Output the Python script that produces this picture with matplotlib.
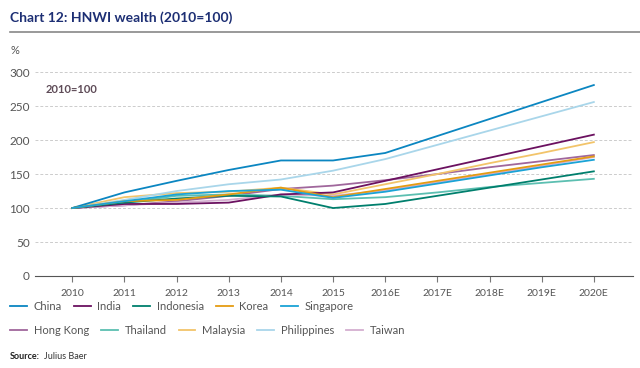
import matplotlib.pyplot as plt
from matplotlib.lines import Line2D

plt.rcParams['font.family'] = ['Lato', 'DejaVu Sans']

years = ['2010', '2011', '2012', '2013', '2014', '2015', '2016E', '2017E', '2018E', '2019E', '2020E']

china = [100, 123, 140, 156, 170, 170, 181, 206, 231, 256, 281]
india = [100, 106, 106, 108, 120, 123, 140, 157, 174, 191, 208]
indonesia = [100, 108, 114, 118, 117, 100, 106, 118, 130, 142, 154]
korea = [100, 110, 112, 120, 130, 116, 128, 140, 152, 164, 176]
singapore = [100, 110, 120, 125, 127, 115, 124, 136, 148, 160, 171]
hong_kong = [100, 104, 110, 118, 128, 133, 141, 150, 160, 169, 178]
thailand = [100, 108, 118, 120, 118, 113, 116, 123, 131, 137, 143]
malaysia = [100, 116, 122, 124, 130, 120, 135, 150, 166, 181, 197]
philippines = [100, 112, 125, 135, 142, 155, 172, 193, 214, 235, 256]
taiwan = [100, 104, 108, 112, 120, 118, 126, 138, 150, 162, 175]

row1 = [('China', china, '#0b86c1'), ('India', india, '#6b1160'),
        ('Indonesia', indonesia, '#007f6d'), ('Korea', korea, '#e59c12'),
        ('Singapore', singapore, '#1aa3d6')]
row2 = [('Hong Kong', hong_kong, '#a0679c'), ('Thailand', thailand, '#5cbfb1'),
        ('Malaysia', malaysia, '#f2c46a'), ('Philippines', philippines, '#a9d6ea'),
        ('Taiwan', taiwan, '#d4afd0')]

fig = plt.figure(figsize=(6.4, 3.68), dpi=100)
ax = fig.add_axes([0.055, 0.25, 0.934, 0.554])

x = range(len(years))
# lighter ones first, main ones on top
for name, vals, col in row2 + row1:
    ax.plot(x, vals, color=col, lw=1.3, zorder=3)

ax.set_xlim(-0.71, 10.75)
ax.set_ylim(0, 300)
ax.set_yticks(range(0, 301, 50))
ax.set_xticks(list(x))
ax.set_xticklabels(years)
ax.grid(axis='y', color='#cccccc', ls=(0, (3, 2)), lw=0.7)
ax.set_axisbelow(True)
for s in ['top', 'right', 'left']:
    ax.spines[s].set_visible(False)
ax.spines['bottom'].set_color('#555555')
ax.spines['bottom'].set_linewidth(0.8)
ax.tick_params(axis='y', length=0, labelsize=8.5, labelcolor='#555555', pad=4)
ax.tick_params(axis='x', length=4, color='#777777', labelsize=7.5, labelcolor='#555555', pad=5)

ax.text(-0.52, 274, '2010=100', fontsize=8, color='#5e4b57', fontweight='bold', va='center')

fig.text(0.016, 0.951, 'Chart 12: HNWI wealth (2010=100)', fontsize=10, fontweight='bold',
         color='#1d2f74', va='center')
fig.add_artist(Line2D([0.016, 1.0], [0.913, 0.913], color='#888888', lw=1.2))
fig.text(0.016, 0.862, '%', fontsize=8, color='#555555', va='center')

for row, yy in [(row1, 0.168), (row2, 0.103)]:
    handles = [Line2D([], [], color=c, lw=1.3) for _, _, c in row]
    labels = [n for n, _, _ in row]
    leg = fig.legend(handles, labels, loc='center left', bbox_to_anchor=(0.016, yy), ncol=5,
                     frameon=False, fontsize=8, handlelength=1.5, handletextpad=0.6,
                     columnspacing=1.1, borderaxespad=0, borderpad=0)
    for t in leg.get_texts():
        t.set_color('#555555')

fig.text(0.016, 0.03, 'Source:', fontsize=6.5, fontweight='bold', color='#222222', va='center')
fig.text(0.068, 0.03, 'Julius Baer', fontsize=6.5, color='#333333', va='center')

fig.savefig('out.png', dpi=100)
